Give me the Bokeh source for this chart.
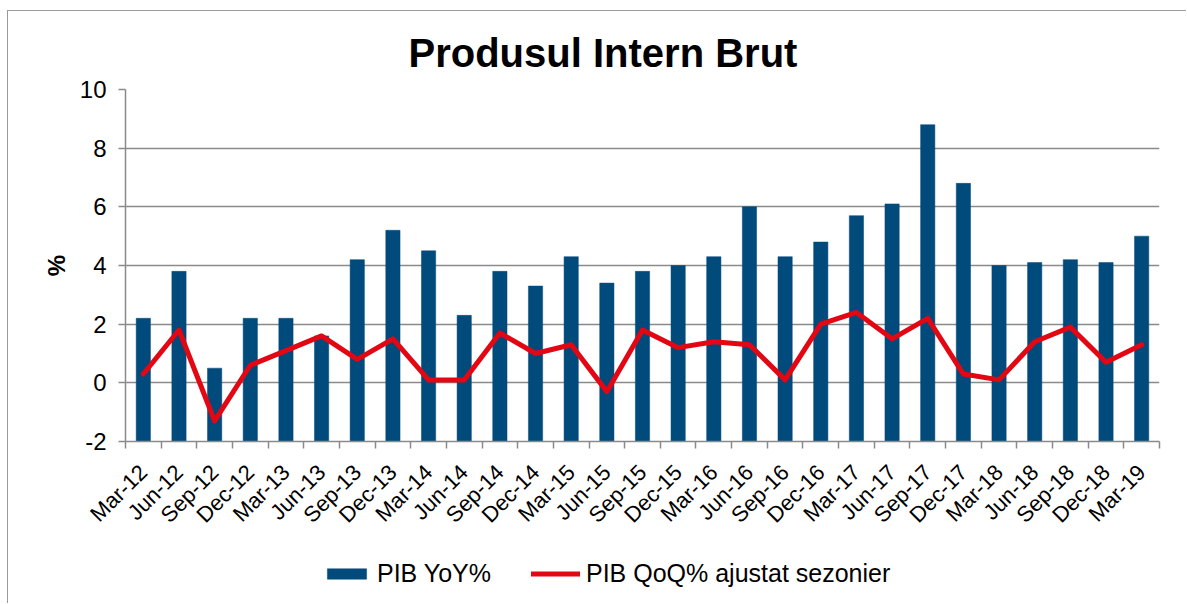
from bokeh.plotting import figure
from bokeh.layouts import column
from bokeh.models import Range1d, FixedTicker, Legend, LegendItem
from bokeh.embed import file_html
from bokeh.resources import INLINE

categories = ["Mar-12", "Jun-12", "Sep-12", "Dec-12", "Mar-13", "Jun-13", "Sep-13", "Dec-13",
              "Mar-14", "Jun-14", "Sep-14", "Dec-14", "Mar-15", "Jun-15", "Sep-15", "Dec-15",
              "Mar-16", "Jun-16", "Sep-16", "Dec-16", "Mar-17", "Jun-17", "Sep-17", "Dec-17",
              "Mar-18", "Jun-18", "Sep-18", "Dec-18", "Mar-19"]
pib_yoy = [2.2, 3.8, 0.5, 2.2, 2.2, 1.6, 4.2, 5.2, 4.5, 2.3, 3.8, 3.3, 4.3, 3.4, 3.8, 4.0,
           4.3, 6.0, 4.3, 4.8, 5.7, 6.1, 8.8, 6.8, 4.0, 4.1, 4.2, 4.1, 5.0]
pib_qoq = [0.3, 1.8, -1.3, 0.6, 1.1, 1.6, 0.8, 1.5, 0.1, 0.1, 1.7, 1.0, 1.3, -0.3, 1.8, 1.2,
           1.4, 1.3, 0.1, 2.0, 2.4, 1.5, 2.2, 0.3, 0.1, 1.4, 1.9, 0.7, 1.3]
y_ticks = [-2, 0, 2, 4, 6, 8, 10]
y_tick_labels = ["-2", "0", "2", "4", "6", "8", "10"]
series_names = ["PIB YoY%", "PIB QoQ% ajustat sezonier"]

FONT = "Liberation Sans"
GRID = "#8a8a8a"
BAR = "#004A7C"
RED = "#E30613"
n = len(categories)
xs = list(range(1, n + 1))

W = 1178
H1 = 540
H2 = 52

p = figure(width=W, height=H1, output_backend="svg", toolbar_location=None,
           x_range=Range1d(0.5, n + 0.5), y_range=Range1d(-2, 10),
           min_border_left=117, min_border_right=27, min_border_top=78, min_border_bottom=110)
p.outline_line_color = None
p.background_fill_color = "white"
p.border_fill_color = "white"

p.title.text = "Produsul Intern Brut"
p.title.text_font = FONT
p.title.text_font_size = "40px"
p.title.text_font_style = "bold"
p.title.text_color = "black"
p.title.align = "left"
p.title.offset = 283
p.title.standoff = 30

p.vbar(x=xs, top=pib_yoy, bottom=-2, width=0.40, fill_color=BAR,
       line_color=BAR, line_width=0.5)
p.line(x=xs, y=pib_qoq, line_color=RED, line_width=5, line_join="round", line_cap="round")

# x axis
xa = p.xaxis[0]
xa.ticker = FixedTicker(ticks=xs, minor_ticks=[i + 0.5 for i in range(n + 1)])
xa.major_label_overrides = {x: c for x, c in zip(xs, categories)}
xa.major_label_orientation = 0.785398
xa.major_label_text_font = FONT
xa.major_label_text_font_size = "22px"
xa.major_label_text_color = "black"
xa.major_label_standoff = 20
xa.major_tick_line_color = None
xa.minor_tick_line_color = GRID
xa.minor_tick_line_width = 1.5
xa.minor_tick_out = 7
xa.minor_tick_in = 0
xa.axis_line_color = GRID
xa.axis_line_width = 1.5

# y axis
ya = p.yaxis[0]
ya.ticker = FixedTicker(ticks=y_ticks)
ya.major_label_overrides = {t: s for t, s in zip(y_ticks, y_tick_labels)}
ya.major_label_text_font = FONT
ya.major_label_text_font_size = "24px"
ya.major_label_text_color = "black"
ya.major_label_standoff = 12
ya.major_tick_line_color = GRID
ya.major_tick_line_width = 1.5
ya.major_tick_out = 7
ya.major_tick_in = 0
ya.minor_tick_line_color = None
ya.axis_line_color = GRID
ya.axis_line_width = 1.5
ya.axis_label = "%"
ya.axis_label_text_font = FONT
ya.axis_label_text_font_size = "24px"
ya.axis_label_text_font_style = "bold"
ya.axis_label_text_color = "black"
ya.axis_label_standoff = 7

p.xgrid.grid_line_color = None
p.ygrid.ticker = FixedTicker(ticks=y_ticks)
p.ygrid.grid_line_color = GRID
p.ygrid.grid_line_width = 1.5

# legend strip: same series drawn into a range where they stay out of view
p2 = figure(width=W, height=H2, output_backend="svg", toolbar_location=None,
            x_range=Range1d(0.5, n + 0.5), y_range=Range1d(100, 101), min_border=0)
p2.axis.visible = False
p2.grid.grid_line_color = None
p2.outline_line_color = None
p2.border_fill_color = "white"
p2.background_fill_color = "white"
lb = p2.vbar(x=xs, top=pib_yoy, bottom=-2, width=0.4, fill_color=BAR, line_color=BAR,
             line_width=0.5)
ll = p2.line(x=xs, y=pib_qoq, line_color=RED, line_width=5, line_cap="round")
legend = Legend(items=[LegendItem(label=series_names[0], renderers=[lb]),
                       LegendItem(label=series_names[1], renderers=[ll])],
                location=(197, 15), orientation="horizontal",
                label_text_font=FONT, label_text_font_size="25px", label_text_color="black",
                glyph_width=49, glyph_height=13, label_standoff=6, spacing=40,
                padding=0, margin=0, border_line_color=None, background_fill_alpha=0)
p2.add_layout(legend, "center")

layout = column(p, p2, spacing=0)
layout.styles = {"border-top": "1px solid #9a9a9a", "border-left": "1px solid #9a9a9a",
                 "margin-left": "7px", "margin-top": "10px"}

open("out.html", "w").write(file_html(layout, INLINE))
